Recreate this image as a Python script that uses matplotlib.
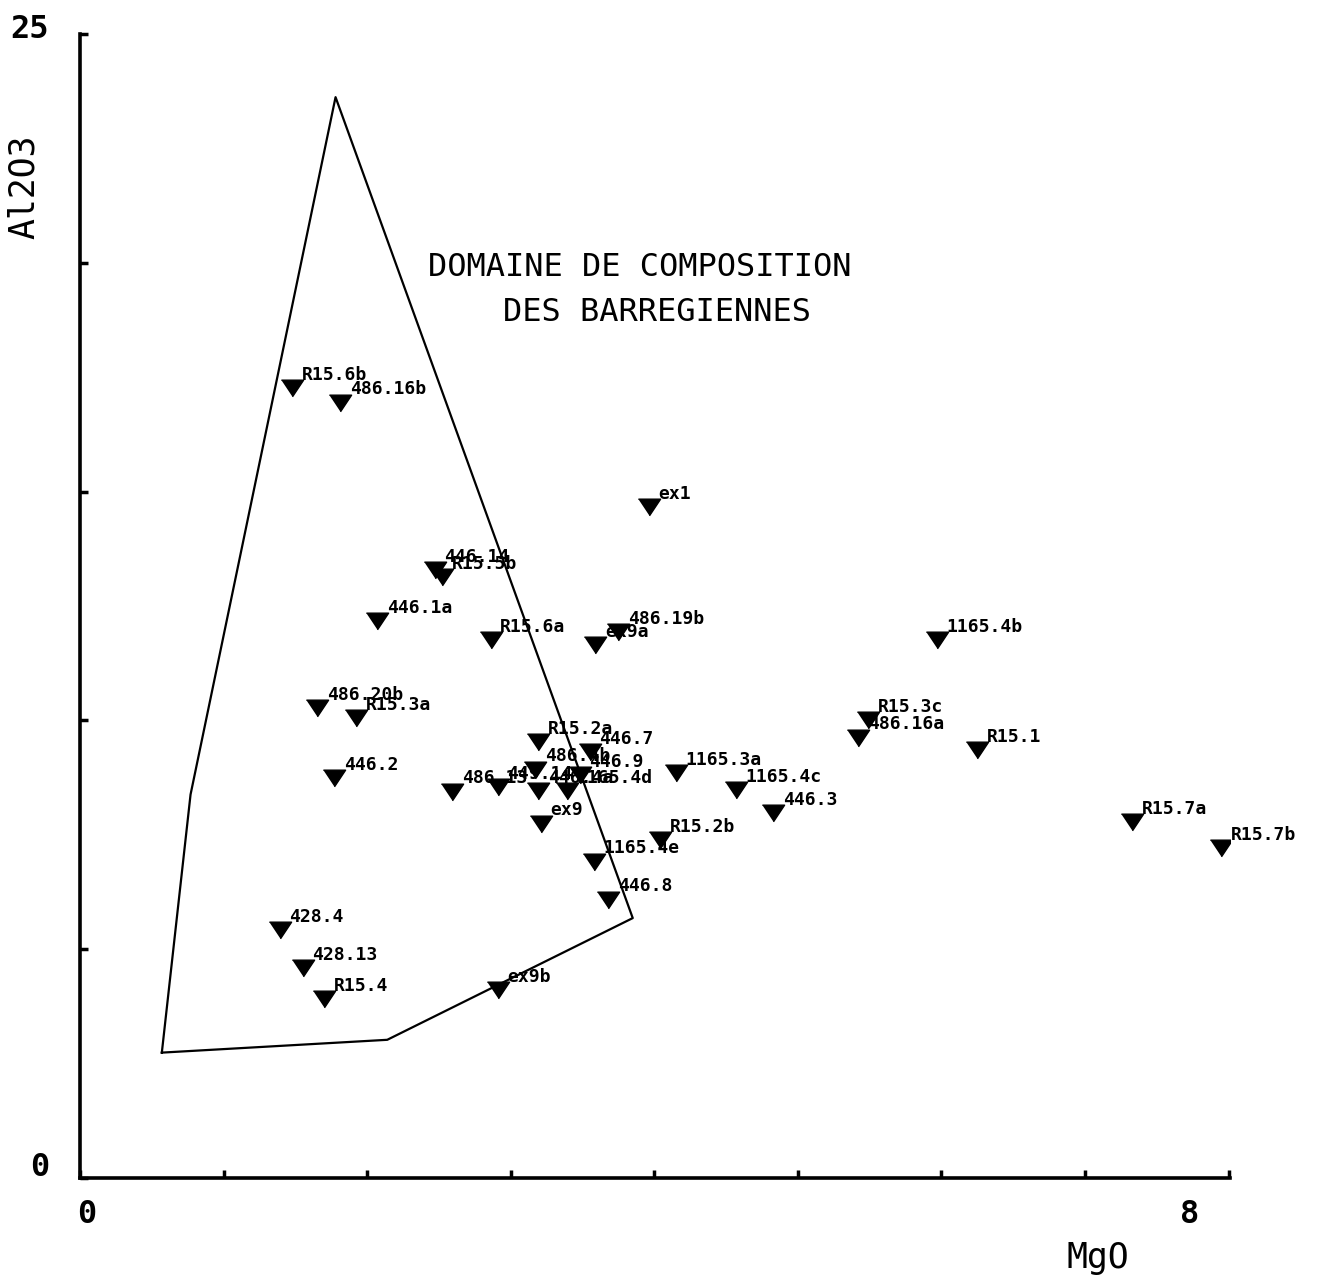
import matplotlib.pyplot as plt
import numpy as np

# echantillons : MgO, Al2O3
labels = ['R15.6b', '486.16b', 'ex1', '446.14', 'R15.5b', '446.1a', 'R15.6a',
          'ex9a', '486.19b', '1165.4b', '486.20b', 'R15.3a', 'R15.2a', '446.7',
          '486.4b', '446.9', '446.2', '486.13', '449.14', '446.4a', '1165.4d',
          '1165.3a', '1165.4c', '446.3', 'ex9', 'R15.2b', '1165.4e', '446.8',
          'R15.3c', '486.16a', 'R15.1', 'R15.7a', 'R15.7b', '428.4', '428.13',
          'R15.4', 'ex9b']
mgo = [1.48, 1.81, 3.96, 2.47, 2.52, 2.07, 2.86,
       3.59, 3.75, 5.97, 1.65, 1.92, 3.19, 3.55,
       3.17, 3.48, 1.77, 2.59, 2.91, 3.19, 3.39,
       4.15, 4.57, 4.83, 3.21, 4.04, 3.58, 3.68,
       5.49, 5.42, 6.25, 7.33, 7.95, 1.39, 1.55,
       1.70, 2.91]
al2o3 = [17.26, 16.94, 14.66, 13.29, 13.13, 12.17, 11.76,
         11.65, 11.93, 11.76, 10.27, 10.05, 9.53, 9.31,
         8.92, 8.81, 8.74, 8.44, 8.54, 8.46, 8.46,
         8.85, 8.48, 7.98, 7.74, 7.39, 6.91, 6.08,
         10.01, 9.62, 9.35, 7.78, 7.21, 5.42, 4.59,
         3.91, 4.11]

# domaine de composition des barregiennes
dom_x = [0.57, 0.77, 1.78, 3.85, 2.14, 0.57]
dom_y = [2.74, 8.38, 23.62, 5.68, 3.02, 2.74]

fig = plt.figure(figsize=(13.17, 12.8), dpi=100)
ax = fig.add_axes([80/1317, 102/1280, 1150/1317, 1144/1280])

tri = [(-1, 0.75), (1, 0.75), (0, -0.75)]
ax.plot(mgo, al2o3, linestyle='none', marker=tri, markersize=16, color='k')
for lab, x, y in zip(labels, mgo, al2o3):
    ax.annotate(lab, (x, y), xytext=(7, 6), textcoords='offset points',
                ha='left', va='baseline', fontsize=13, fontweight='bold',
                family='DejaVu Sans Mono')

ax.plot(dom_x, dom_y, color='k', linewidth=1.6)

ax.text(3.9, 19.9, 'DOMAINE DE COMPOSITION', ha='center', va='center',
        fontsize=23, family='DejaVu Sans Mono')
ax.text(4.02, 18.92, 'DES BARREGIENNES', ha='center', va='center',
        fontsize=23, family='DejaVu Sans Mono')

ax.set_xlim(0, 8.01)
ax.set_ylim(0, 25)
ax.spines['top'].set_visible(False)
ax.spines['right'].set_visible(False)
ax.spines['left'].set_linewidth(2.6)
ax.spines['bottom'].set_linewidth(2.6)
ax.set_xticks(np.arange(0, 9, 1))
ax.set_yticks(np.arange(0, 30, 5))
ax.set_xticklabels([])
ax.set_yticklabels([])
ax.tick_params(direction='in', length=6, width=2.5)

# graduations extremes
ax.text(-0.35, 25.1, '25', ha='center', va='center', fontsize=23,
        fontweight='bold', family='DejaVu Sans Mono', clip_on=False)
ax.text(-0.28, 0.22, '0', ha='center', va='center', fontsize=23,
        fontweight='bold', family='DejaVu Sans Mono', clip_on=False)
ax.text(0.05, -0.8, '0', ha='center', va='center', fontsize=23,
        fontweight='bold', family='DejaVu Sans Mono', clip_on=False)
ax.text(7.73, -0.8, '8', ha='center', va='center', fontsize=23,
        fontweight='bold', family='DejaVu Sans Mono', clip_on=False)

ax.text(7.09, -1.75, 'MgO', ha='center', va='center', fontsize=25,
        family='DejaVu Sans Mono', clip_on=False)
ax.text(-0.39, 21.65, 'Al2O3', ha='center', va='center', fontsize=25,
        rotation=90, family='DejaVu Sans Mono', clip_on=False)

fig.savefig('out.png', dpi=100, facecolor='white')
